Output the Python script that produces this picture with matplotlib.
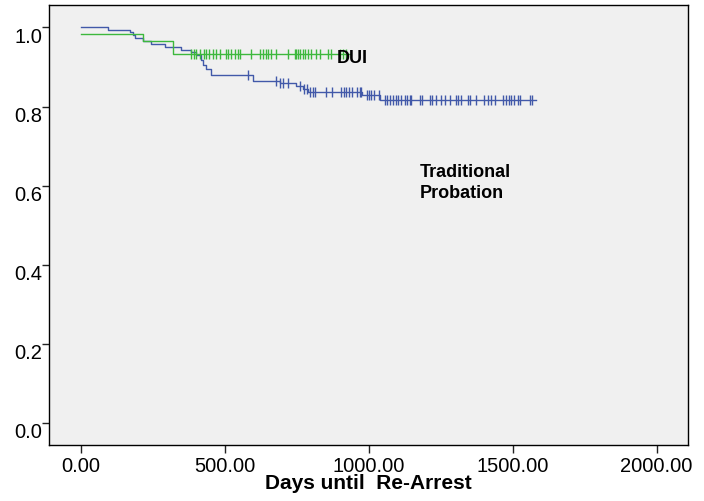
import numpy as np
import matplotlib
matplotlib.use('Agg')
import matplotlib.pyplot as plt
from matplotlib.transforms import ScaledTranslation

plt.rcParams['font.family'] = ['Liberation Sans', 'DejaVu Sans']

# step curves (time of drop, survival after drop)
trad_times = [0, 96, 172, 180, 187, 216, 245, 292, 350, 384, 402, 419, 425, 434, 454,
              598, 691, 749, 772, 789, 977, 1038]
trad_surv = [1.0, 0.993, 0.987, 0.980, 0.972, 0.965, 0.958, 0.951, 0.944, 0.938, 0.930,
             0.917, 0.905, 0.895, 0.880, 0.865, 0.859, 0.852, 0.844, 0.836, 0.828, 0.817]
trad_end = 1582
trad_censor = [581, 679, 691, 702, 720, 760, 774, 786, 795, 807, 812, 853,
               874, 905, 913, 922, 932, 943, 959, 969, 975, 994, 1001, 1009, 1017,
               1036, 1056, 1064, 1073, 1085, 1094, 1102, 1113, 1125, 1133, 1142, 1148,
               1177, 1186, 1212, 1221, 1233, 1252, 1264, 1284, 1302, 1310, 1322, 1345,
               1351, 1374, 1399, 1414, 1426, 1438, 1466, 1476, 1487, 1495, 1503, 1519,
               1524, 1559, 1568]

dui_times = [0, 216, 321]
dui_surv = [0.982, 0.966, 0.933]
dui_end = 934
dui_censor = [384, 392, 402, 416, 427, 436, 446, 459, 471, 483, 506, 512, 523, 535,
              546, 552, 593, 622, 633, 642, 650, 662, 679, 720, 743, 749, 755, 763,
              772, 778, 789, 801, 818, 830, 859, 870, 899, 911, 922]

x_ticks = [0, 500, 1000, 1500, 2000]
y_ticks = [0.0, 0.2, 0.4, 0.6, 0.8, 1.0]

blue = '#4259A9'
green = '#3DB83D'


def level_at(times, surv, t):
    idx = np.searchsorted(times, t, side='right') - 1
    return np.asarray(surv)[idx]


fig = plt.figure(figsize=(7.04, 5.01), dpi=100)
ax = fig.add_axes([0.070, 0.1118, 0.9073, 0.8776])
ax.set_facecolor('#F0F0F0')

for times, surv, end, cens, col in [(trad_times, trad_surv, trad_end, trad_censor, blue),
                                    (dui_times, dui_surv, dui_end, dui_censor, green)]:
    xs = list(times) + [end]
    ys = list(surv) + [surv[-1]]
    ax.plot(xs, ys, drawstyle='steps-post', color=col, lw=1.0)
    cy = level_at(times, surv, np.array(cens))
    ax.plot(cens, cy, ls='none', marker='|', ms=7, mew=1.0, color=col)

ax.text(889, 0.922, 'DUI', fontsize=13, fontweight='bold', va='center', ha='left')
ax.text(1177, 0.607, 'Traditional\nProbation', fontsize=13, fontweight='bold',
        va='center', ha='left', linespacing=1.25)

ax.set_xlim(-109, 2109)
ax.set_ylim(-0.0548, 1.0556)
ax.set_xticks(x_ticks)
ax.set_xticklabels([f'{v:.2f}' for v in x_ticks])
ax.set_yticks(y_ticks)
ax.set_yticklabels([f'{v:.1f}' for v in y_ticks])
ax.tick_params(axis='x', direction='out', length=6, width=1, pad=3, labelsize=14.5, colors='#222222')
ax.tick_params(axis='y', direction='out', length=5, width=1, pad=0, labelsize=14.5, colors='#222222')
for lab in ax.get_xticklabels() + ax.get_yticklabels():
    lab.set_color('black')
for lab in ax.get_yticklabels():
    lab.set_transform(lab.get_transform() + ScaledTranslation(0, -0.077, fig.dpi_scale_trans))

for s in ax.spines.values():
    s.set_linewidth(1.0)
    s.set_color('black')

ax.set_xlabel('Days until  Re-Arrest', fontsize=15, fontweight='bold')
ax.xaxis.set_label_coords(0.5, -0.101)
ax.xaxis.label.set_va('baseline')

fig.savefig('out.png', dpi=100)
